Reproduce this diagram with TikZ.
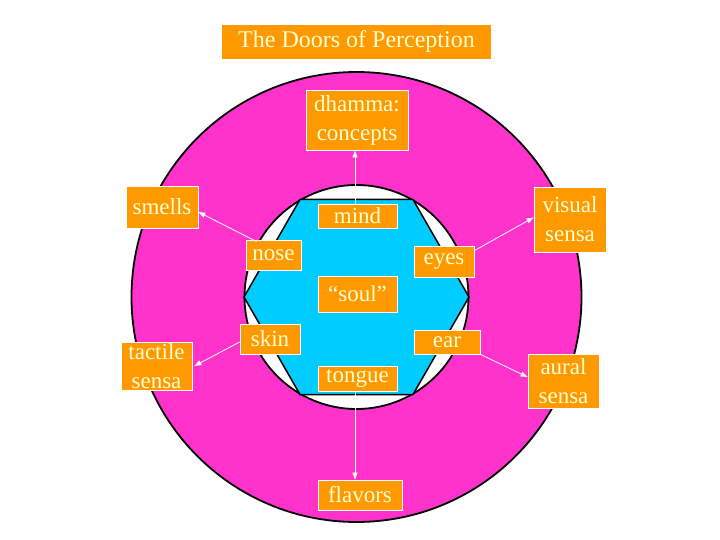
\documentclass[tikz,border=0pt]{standalone}
\usepackage{fontspec}
\setmainfont{Liberation Serif}
\usetikzlibrary{arrows.meta}
\definecolor{mag}{RGB}{255,51,204}
\definecolor{cy}{RGB}{0,204,255}
\definecolor{orng}{RGB}{255,153,0}
\definecolor{cream}{RGB}{255,255,210}
\begin{document}
\begin{tikzpicture}[x=1pt,y=-1pt,
 lbl/.style={draw=white, line width=0.8pt, fill=orng, text=cream, inner sep=0pt,
   font=\fontsize{23}{29}\selectfont, align=center},
 arr/.style={draw=white, line width=0.8pt, -{Triangle[length=7pt,width=5pt]}}]
\useasboundingbox (0,0) rectangle (720,540);
\fill[white] (0,0) rectangle (720,540);
% rings
\draw[fill=mag, line width=1.8pt] (356.5,297) circle[radius=225];
\draw[fill=white, line width=1.8pt] (356.5,297) circle[radius=112];
\draw[fill=cy, line width=1.5pt] (469,297) -- (413,199.5) -- (300,199.5) -- (244,297)
   -- (300,394.5) -- (413,394.5) -- cycle;
% title
\node[lbl, draw=none, minimum width=269pt, minimum height=34pt,
  font=\fontsize{24}{29}\selectfont] (title) at (356.5,42) {The Doors of Perception};
% inner labels
\node[lbl, minimum width=79pt, minimum height=24pt] (mind) at (357.5,216) {mind};
\node[lbl, minimum width=79pt, minimum height=36pt] (soul) at (357.5,294) {“soul”};
\node[lbl, minimum width=79pt, minimum height=25pt] (tongue) at (357.5,378.5) {tongue};
\node[lbl, minimum width=55pt, minimum height=30pt] (nose) at (273.5,255) {nose};
\node[lbl, minimum width=60pt, minimum height=30pt] (skin) at (270,339) {skin};
\node[lbl, minimum width=60pt, minimum height=31pt] (eyes) at (444,261.5) {eyes};
\node[lbl, minimum width=66pt, minimum height=24pt] (ear) at (447,342) {ear};
% outer labels
\node[lbl, minimum width=102pt, minimum height=60pt] (dhamma) at (357,120) {dhamma:\\concepts};
\node[lbl, minimum width=84pt, minimum height=30pt] (flavors) at (360,495) {flavors};
\node[lbl, minimum width=72pt, minimum height=42pt] (smells) at (162,207) {smells};
\node[lbl, minimum width=71pt, minimum height=48pt] (tactile) at (156.5,366) {tactile\\sensa};
\node[lbl, minimum width=72pt, minimum height=65pt] (visual) at (570,219.5) {visual\\sensa};
\node[lbl, minimum width=71pt, minimum height=54pt] (aural) at (563.5,381) {aural\\sensa};
% arrows
\draw[arr] ([xshift=-2.5pt]mind.north) -- ([xshift=-2.5pt]mind.north |- dhamma.south);
\draw[arr] ([xshift=-2.5pt]tongue.south) -- ([xshift=-2.5pt]tongue.south |- flavors.north);
\draw[arr] ([xshift=11pt,yshift=-2pt]nose.north west) -- ([yshift=-5pt]smells.east);
\draw[arr] ([yshift=-3pt]skin.west) -- ([xshift=2pt]tactile.east);
\draw[arr] ([yshift=-5pt]eyes.north east) -- ([yshift=2pt]visual.west);
\draw[arr] (ear.south east) -- ([yshift=4pt]aural.west);
\end{tikzpicture}
\end{document}
